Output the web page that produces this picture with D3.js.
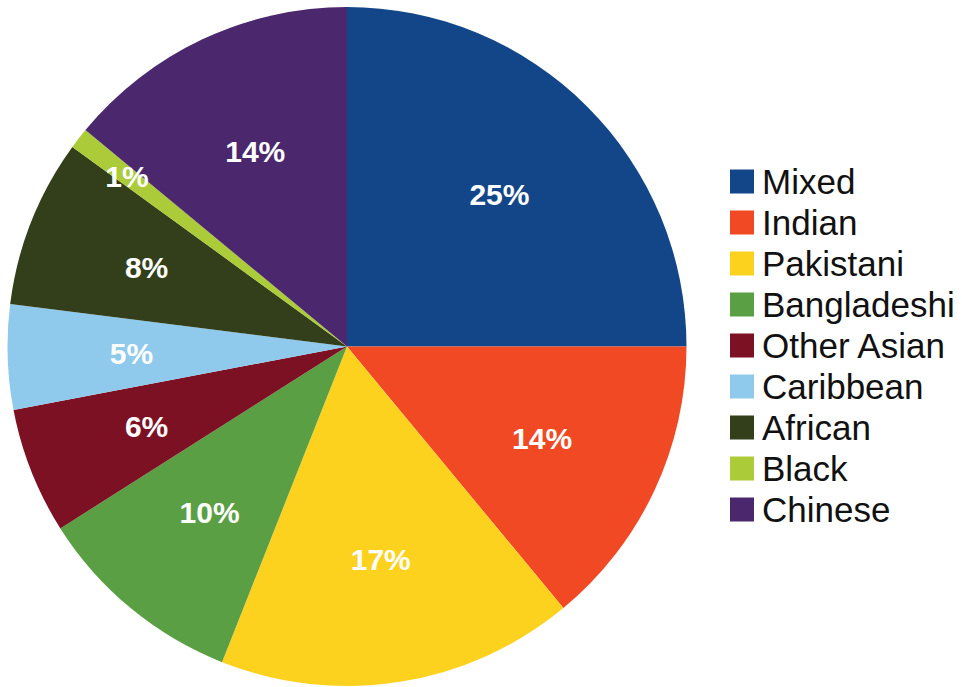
<!DOCTYPE html>
<html>
<head>
<meta charset="utf-8">
<script src="https://cdn.jsdelivr.net/npm/d3@7"></script>
<style>
  html, body { margin: 0; padding: 0; background: #fff; }
  svg { display: block; }
</style>
</head>
<body>
<svg id="chart" width="962" height="687"></svg>
<script>
// Ethnic group shares (percent)
const categories = ["Mixed", "Indian", "Pakistani", "Bangladeshi", "Other Asian", "Caribbean", "African", "Black", "Chinese"];
const values = [25, 14, 17, 10, 6, 5, 8, 1, 14];
const colors = ["#134688", "#F04923", "#FDD21F", "#5A9F44", "#7D1124", "#8FC9EC", "#323F1A", "#ABCC38", "#4B286D"];

const svg = d3.select("#chart");
const cx = 347, cy = 346.5, radius = 339.5;

const data = categories.map((c, i) => ({ name: c, value: values[i], color: colors[i] }));

const pie = d3.pie().value(d => d.value).sort(null);
const arcs = pie(data);

const arc = d3.arc().innerRadius(0).outerRadius(radius);

const g = svg.append("g").attr("transform", `translate(${cx},${cy})`);

g.selectAll("path.slice")
  .data(arcs)
  .join("path")
  .attr("class", "slice")
  .attr("d", arc)
  .attr("fill", d => d.data.color);

// Percentage labels; very thin slices get their label pushed outward
const labelArc = r => d3.arc().innerRadius(r).outerRadius(r);
const mainLabel = labelArc(radius * 0.635);
const outerLabel = labelArc(radius * 0.82);

g.selectAll("text.pct")
  .data(arcs)
  .join("text")
  .attr("class", "pct")
  .attr("transform", d => {
    const a = (d.data.value < 2 ? outerLabel : mainLabel).centroid(d);
    return `translate(${a[0]},${a[1]})`;
  })
  .attr("text-anchor", "middle")
  .attr("dy", "0.36em")
  .attr("fill", "#fff")
  .attr("font-family", "'Liberation Sans', Arial, Helvetica, sans-serif")
  .attr("font-weight", "bold")
  .attr("font-size", 30)
  .text(d => d.data.value + "%");

// Legend
const legendY = d3.scaleBand()
  .domain(categories)
  .range([161, 530])
  .paddingInner(0);

const legend = svg.append("g").attr("class", "legend");
const items = legend.selectAll("g")
  .data(data)
  .join("g")
  .attr("transform", d => `translate(730,${legendY(d.name) + legendY.bandwidth() / 2})`);

items.append("rect")
  .attr("x", 0)
  .attr("y", -12)
  .attr("width", 24)
  .attr("height", 24)
  .attr("fill", d => d.color);

items.append("text")
  .attr("x", 32)
  .attr("y", 0)
  .attr("dy", "0.36em")
  .attr("fill", "#111")
  .attr("font-family", "'Liberation Sans', Arial, Helvetica, sans-serif")
  .attr("font-size", 35)
  .text(d => d.name);
</script>
</body>
</html>
